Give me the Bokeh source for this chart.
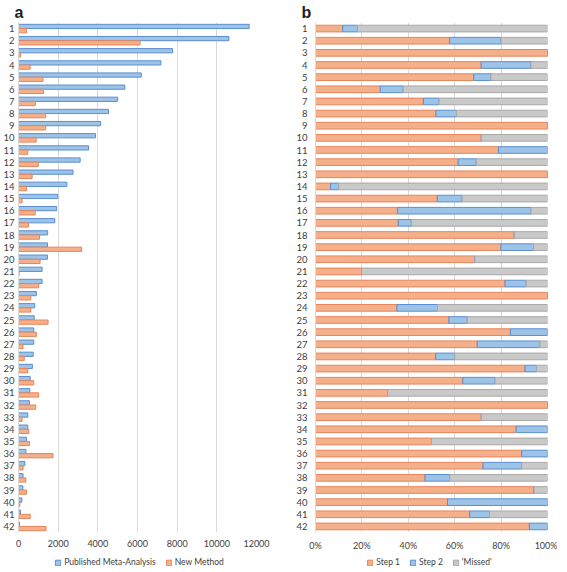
from bokeh.plotting import figure
from bokeh.models import (FactorRange, Range1d, FixedTicker, Legend, LegendItem,
                          ColumnDataSource, PrintfTickFormatter)
from bokeh.transform import dodge
from bokeh.layouts import row, column
from bokeh.embed import file_html
from bokeh.resources import INLINE

studies = [str(i) for i in range(1, 43)]

published_meta = [11630, 10610, 7770, 7180, 6190, 5360, 5000, 4540, 4140, 3880,
                  3530, 3110, 2750, 2440, 1980, 1920, 1830, 1470, 1460, 1460,
                  1190, 1190, 900, 820, 790, 770, 770, 740, 700, 590,
                  570, 550, 470, 470, 400, 370, 320, 230, 220, 170,
                  100, 50]
new_method = [400, 6130, 100, 590, 1240, 1260, 850, 1370, 1370, 890,
              470, 1000, 690, 400, 180, 840, 500, 1060, 3180, 1090,
              30, 1020, 620, 620, 1490, 900, 230, 290, 470, 770,
              1020, 870, 180, 520, 550, 1740, 230, 370, 400, 70,
              590, 1390]

step1 = [11.7, 57.8, 100, 71.4, 68.2, 27.9, 46.5, 51.9, 100, 71.5,
         78.9, 61.5, 100, 6.5, 52.5, 35.4, 35.7, 85.7, 79.9, 68.7,
         19.9, 81.7, 100, 35.1, 57.5, 84.0, 69.7, 51.8, 90.3, 63.5,
         31.1, 100, 71.5, 86.5, 50.0, 88.9, 72.2, 47.2, 94.2, 56.9,
         66.5, 92.2]
step2 = [6.4, 22.2, 0, 21.5, 7.4, 9.9, 6.8, 8.9, 0, 0,
         21.1, 7.8, 0, 3.5, 10.7, 57.5, 5.6, 0, 14.1, 0,
         0, 9.1, 0, 17.5, 7.9, 16.0, 27.0, 8.2, 5.0, 13.9,
         0, 0, 0, 13.5, 0, 11.1, 16.7, 10.7, 0, 43.1,
         8.5, 7.8]

ticks_a = [0, 2000, 4000, 6000, 8000, 10000, 12000]
ticks_b = [0, 20, 40, 60, 80, 100]

series_a = ["Published Meta-Analysis", "New Method"]
series_b = ["Step 1", "Step 2", "'Missed'"]

BLUE_F, BLUE_L = "#9dc3e6", "#5b8fd0"
ORNG_F, ORNG_L = "#f4b08a", "#e8845a"
GREY_F, GREY_L = "#c9c9c9", "#a8a8a8"
FONT = "Lato"

missed = [round(100 - a - b, 2) for a, b in zip(step1, step2)]
factors = list(reversed(studies))


def style(p, ticks, standoff, title_offset):
    p.outline_line_color = None
    p.ygrid.grid_line_color = None
    p.xgrid.grid_line_color = "#d9d9d9"
    p.xgrid.ticker = FixedTicker(ticks=ticks)
    p.xaxis.ticker = FixedTicker(ticks=ticks)
    p.xaxis.axis_line_color = None
    p.xaxis.major_tick_line_color = None
    p.xaxis.minor_tick_line_color = None
    p.xaxis.major_tick_out = 0
    p.xaxis.major_tick_in = 0
    p.xaxis.minor_tick_out = 0
    p.xaxis.major_label_text_font = FONT
    p.xaxis.major_label_text_font_size = "9px"
    p.xaxis.major_label_text_color = "#404040"
    p.xaxis.major_label_standoff = 7
    p.yaxis.axis_line_color = "#d9d9d9"
    p.yaxis.major_tick_line_color = None
    p.yaxis.minor_tick_line_color = None
    p.yaxis.major_tick_out = 0
    p.yaxis.major_tick_in = 0
    p.yaxis.minor_tick_out = 0
    p.yaxis.major_label_text_font = FONT
    p.yaxis.major_label_text_font_size = "9.5px"
    p.yaxis.major_label_text_color = "#404040"
    p.yaxis.major_label_standoff = standoff
    p.title.text_font = "Liberation Sans"
    p.title.text_font_size = "16px"
    p.title.text_font_style = "bold"
    p.title.text_color = "#222222"
    p.title.standoff = 3
    p.title.offset = title_offset


def legend_fig(width, left, right, names, fills, lines):
    # a small figure that only carries the legend; its placeholder bars sit
    # outside its visible range, so only the legend keys show
    lf = figure(width=width, height=18, x_range=Range1d(0, 1), y_range=Range1d(0, 1),
                output_backend="svg", toolbar_location=None,
                x_axis_location=None, y_axis_location=None,
                min_border_left=left, min_border_right=right,
                min_border_top=0, min_border_bottom=0)
    lf.outline_line_color = None
    lf.grid.visible = False
    items = []
    for name, fc, lc in zip(names, fills, lines):
        holder = ColumnDataSource(dict(y=[-10], right=[0]))
        r = lf.hbar(y="y", right="right", left=0, height=0.5, source=holder,
                    fill_color=fc, line_color=lc, line_width=1)
        items.append(LegendItem(label=name, renderers=[r]))
    lg = Legend(items=items, orientation="horizontal", location="center",
                label_text_font=FONT, label_text_font_size="8.5px",
                label_text_color="#404040", label_height=9, label_width=10,
                glyph_width=7, glyph_height=7, label_standoff=3, spacing=9,
                padding=0, margin=0, border_line_color=None,
                background_fill_alpha=0)
    lf.add_layout(lg)
    return lf


# ---------- panel a ----------
src_a = ColumnDataSource(dict(study=studies, pub=published_meta, new=new_method))
p1 = figure(frame_width=238, frame_height=510,
            y_range=FactorRange(factors=factors, range_padding=0),
            x_range=Range1d(0, 12000), title="a", output_backend="svg",
            toolbar_location=None, min_border_left=0, min_border_right=33,
            min_border_top=0, min_border_bottom=0)
p1.hbar(y=dodge("study", 0.175, range=p1.y_range), right="pub", left=0, height=0.35,
        source=src_a, fill_color=BLUE_F, line_color=BLUE_L, line_width=1)
p1.hbar(y=dodge("study", -0.175, range=p1.y_range), right="new", left=0, height=0.35,
        source=src_a, fill_color=ORNG_F, line_color=ORNG_L, line_width=1)
style(p1, ticks_a, 4, -4)

# ---------- panel b ----------
src_b = ColumnDataSource(dict(study=studies, s1=step1, s2=step2, ms=missed))
p2 = figure(frame_width=232, frame_height=510,
            y_range=FactorRange(factors=factors, range_padding=0),
            x_range=Range1d(0, 100), title="b", output_backend="svg",
            toolbar_location=None, min_border_left=26, min_border_right=10,
            min_border_top=0, min_border_bottom=0)
p2.hbar_stack(["s1", "s2", "ms"], y="study", height=0.55, source=src_b,
              fill_color=[ORNG_F, BLUE_F, GREY_F], line_color=[ORNG_L, BLUE_L, GREY_L],
              line_width=1)
style(p2, ticks_b, 8, -14)
p2.xaxis.formatter = PrintfTickFormatter(format="%d%%")

leg1 = legend_fig(283, 20, 25, series_a, [BLUE_F, ORNG_F], [BLUE_L, ORNG_L])
leg2 = legend_fig(268, 30, 6, series_b, [ORNG_F, BLUE_F, GREY_F], [ORNG_L, BLUE_L, GREY_L])

layout = column(row(p1, p2), row(leg1, leg2))
open("out.html", "w").write(file_html(layout, INLINE))
